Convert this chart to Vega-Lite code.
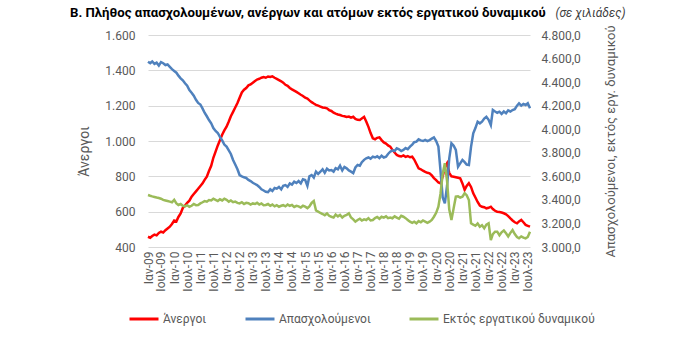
{
  "$schema": "https://vega.github.io/schema/vega-lite/v6.json",
  "width": 382,
  "height": 212,
  "autosize": {"type": "none"},
  "padding": {"left": 148, "top": 35, "right": 170, "bottom": 108},
  "background": "white",
  "config": {
    "locale": {"number": {"decimal": ",", "thousands": ".", "grouping": [3], "currency": ["", "€"]}},
    "font": "Roboto",
    "view": {"stroke": null},
    "axis": {"labelColor": "#595959", "labelFontSize": 12, "titleColor": "#595959", "titleFontSize": 14, "titleFontWeight": "normal", "grid": false, "domain": false, "ticks": false}
  },
  "title": {
    "text": "Β. Πλήθος απασχολουμένων, ανέργων και ατόμων εκτός εργατικού δυναμικού",
    "anchor": "start", "frame": "group", "dx": -78, "offset": -14,
    "fontSize": 13.2, "fontWeight": "bold", "color": "#000000", "font": "Roboto"
  },
  "data": {
    "format": {"parse": {"d": "date:'%Y-%m'"}},
    "values": [
      {"d":"2009-01","u":458,"e":4573,"o":3441},{"d":"2009-02","u":452,"e":4560,"o":3435},{"d":"2009-03","u":462,"e":4575,"o":3430},{"d":"2009-04","u":470,"e":4555,"o":3425},{"d":"2009-05","u":466,"e":4565,"o":3420},{"d":"2009-06","u":480,"e":4540,"o":3416},{"d":"2009-07","u":487,"e":4570,"o":3410},{"d":"2009-08","u":482,"e":4560,"o":3400},{"d":"2009-09","u":495,"e":4545,"o":3395},{"d":"2009-10","u":505,"e":4550,"o":3390},{"d":"2009-11","u":515,"e":4530,"o":3385},{"d":"2009-12","u":530,"e":4510,"o":3380},
      {"d":"2010-01","u":550,"e":4495,"o":3400},{"d":"2010-02","u":545,"e":4480,"o":3370},{"d":"2010-03","u":570,"e":4455,"o":3357},{"d":"2010-04","u":590,"e":4432,"o":3365},{"d":"2010-05","u":621,"e":4415,"o":3350},{"d":"2010-06","u":635,"e":4390,"o":3345},{"d":"2010-07","u":650,"e":4370,"o":3355},{"d":"2010-08","u":662,"e":4333,"o":3342},{"d":"2010-09","u":685,"e":4310,"o":3350},{"d":"2010-10","u":700,"e":4285,"o":3365},{"d":"2010-11","u":715,"e":4250,"o":3355},{"d":"2010-12","u":730,"e":4223,"o":3357},
      {"d":"2011-01","u":745,"e":4210,"o":3370},{"d":"2011-02","u":760,"e":4175,"o":3380},{"d":"2011-03","u":780,"e":4140,"o":3390},{"d":"2011-04","u":798,"e":4110,"o":3385},{"d":"2011-05","u":830,"e":4078,"o":3399},{"d":"2011-06","u":860,"e":4050,"o":3395},{"d":"2011-07","u":905,"e":4010,"o":3410},{"d":"2011-08","u":940,"e":3985,"o":3400},{"d":"2011-09","u":975,"e":3968,"o":3390},{"d":"2011-10","u":1005,"e":3935,"o":3405},{"d":"2011-11","u":1035,"e":3905,"o":3395},{"d":"2011-12","u":1060,"e":3870,"o":3410},
      {"d":"2012-01","u":1081,"e":3852,"o":3400},{"d":"2012-02","u":1110,"e":3820,"o":3385},{"d":"2012-03","u":1140,"e":3790,"o":3395},{"d":"2012-04","u":1165,"e":3739,"o":3380},{"d":"2012-05","u":1190,"e":3700,"o":3385},{"d":"2012-06","u":1215,"e":3660,"o":3375},{"d":"2012-07","u":1245,"e":3611,"o":3370},{"d":"2012-08","u":1275,"e":3600,"o":3380},{"d":"2012-09","u":1290,"e":3592,"o":3365},{"d":"2012-10","u":1300,"e":3586,"o":3375},{"d":"2012-11","u":1315,"e":3570,"o":3371},{"d":"2012-12","u":1320,"e":3560,"o":3360},
      {"d":"2013-01","u":1330,"e":3545,"o":3370},{"d":"2013-02","u":1340,"e":3535,"o":3365},{"d":"2013-03","u":1348,"e":3526,"o":3375},{"d":"2013-04","u":1352,"e":3510,"o":3360},{"d":"2013-05","u":1358,"e":3490,"o":3370},{"d":"2013-06","u":1362,"e":3480,"o":3355},{"d":"2013-07","u":1358,"e":3469,"o":3357},{"d":"2013-08","u":1365,"e":3465,"o":3365},{"d":"2013-09","u":1362,"e":3490,"o":3350},{"d":"2013-10","u":1366,"e":3475,"o":3360},{"d":"2013-11","u":1358,"e":3501,"o":3345},{"d":"2013-12","u":1352,"e":3495,"o":3355},
      {"d":"2014-01","u":1345,"e":3510,"o":3342},{"d":"2014-02","u":1338,"e":3490,"o":3350},{"d":"2014-03","u":1330,"e":3520,"o":3355},{"d":"2014-04","u":1318,"e":3526,"o":3345},{"d":"2014-05","u":1312,"e":3510,"o":3360},{"d":"2014-06","u":1300,"e":3540,"o":3350},{"d":"2014-07","u":1292,"e":3530,"o":3357},{"d":"2014-08","u":1285,"e":3555,"o":3340},{"d":"2014-09","u":1278,"e":3543,"o":3350},{"d":"2014-10","u":1270,"e":3560,"o":3345},{"d":"2014-11","u":1262,"e":3540,"o":3335},{"d":"2014-12","u":1255,"e":3575,"o":3350},
      {"d":"2015-01","u":1245,"e":3569,"o":3342},{"d":"2015-02","u":1240,"e":3520,"o":3330},{"d":"2015-03","u":1230,"e":3600,"o":3345},{"d":"2015-04","u":1220,"e":3611,"o":3374},{"d":"2015-05","u":1212,"e":3590,"o":3390},{"d":"2015-06","u":1205,"e":3640,"o":3310},{"d":"2015-07","u":1200,"e":3620,"o":3300},{"d":"2015-08","u":1195,"e":3639,"o":3289},{"d":"2015-09","u":1190,"e":3660,"o":3280},{"d":"2015-10","u":1188,"e":3630,"o":3270},{"d":"2015-11","u":1185,"e":3665,"o":3285},{"d":"2015-12","u":1175,"e":3650,"o":3265},
      {"d":"2016-01","u":1170,"e":3654,"o":3257},{"d":"2016-02","u":1160,"e":3640,"o":3250},{"d":"2016-03","u":1155,"e":3670,"o":3275},{"d":"2016-04","u":1150,"e":3660,"o":3260},{"d":"2016-05","u":1147,"e":3690,"o":3272},{"d":"2016-06","u":1142,"e":3650,"o":3250},{"d":"2016-07","u":1140,"e":3680,"o":3265},{"d":"2016-08","u":1136,"e":3668,"o":3272},{"d":"2016-09","u":1138,"e":3650,"o":3286},{"d":"2016-10","u":1132,"e":3640,"o":3250},{"d":"2016-11","u":1137,"e":3628,"o":3235},{"d":"2016-12","u":1125,"e":3675,"o":3215},
      {"d":"2017-01","u":1120,"e":3696,"o":3229},{"d":"2017-02","u":1119,"e":3690,"o":3240},{"d":"2017-03","u":1128,"e":3720,"o":3225},{"d":"2017-04","u":1137,"e":3740,"o":3235},{"d":"2017-05","u":1110,"e":3753,"o":3229},{"d":"2017-06","u":1080,"e":3760,"o":3245},{"d":"2017-07","u":1045,"e":3750,"o":3225},{"d":"2017-08","u":1015,"e":3767,"o":3229},{"d":"2017-09","u":1010,"e":3760,"o":3245},{"d":"2017-10","u":1018,"e":3770,"o":3255},{"d":"2017-11","u":1021,"e":3755,"o":3240},{"d":"2017-12","u":1005,"e":3775,"o":3257},
      {"d":"2018-01","u":992,"e":3760,"o":3250},{"d":"2018-02","u":985,"e":3767,"o":3260},{"d":"2018-03","u":975,"e":3790,"o":3245},{"d":"2018-04","u":968,"e":3809,"o":3250},{"d":"2018-05","u":950,"e":3820,"o":3244},{"d":"2018-06","u":935,"e":3815,"o":3260},{"d":"2018-07","u":921,"e":3838,"o":3250},{"d":"2018-08","u":915,"e":3830,"o":3240},{"d":"2018-09","u":912,"e":3815,"o":3265},{"d":"2018-10","u":918,"e":3824,"o":3257},{"d":"2018-11","u":910,"e":3840,"o":3245},{"d":"2018-12","u":915,"e":3830,"o":3230},
      {"d":"2019-01","u":908,"e":3852,"o":3215},{"d":"2019-02","u":911,"e":3870,"o":3205},{"d":"2019-03","u":895,"e":3890,"o":3215},{"d":"2019-04","u":870,"e":3894,"o":3201},{"d":"2019-05","u":845,"e":3914,"o":3220},{"d":"2019-06","u":840,"e":3905,"o":3210},{"d":"2019-07","u":832,"e":3900,"o":3225},{"d":"2019-08","u":825,"e":3910,"o":3215},{"d":"2019-09","u":820,"e":3900,"o":3205},{"d":"2019-10","u":817,"e":3908,"o":3215},{"d":"2019-11","u":805,"e":3920,"o":3230},{"d":"2019-12","u":790,"e":3931,"o":3257},
      {"d":"2020-01","u":778,"e":3900,"o":3290},{"d":"2020-02","u":765,"e":3852,"o":3342},{"d":"2020-03","u":760,"e":3650,"o":3450},{"d":"2020-04","u":800,"e":3420,"o":3620},{"d":"2020-05","u":850,"e":3371,"o":3711},{"d":"2020-06","u":874,"e":3520,"o":3560},{"d":"2020-07","u":820,"e":3750,"o":3320},{"d":"2020-08","u":800,"e":3880,"o":3229},{"d":"2020-09","u":798,"e":3860,"o":3330},{"d":"2020-10","u":795,"e":3824,"o":3427},{"d":"2020-11","u":792,"e":3682,"o":3430},{"d":"2020-12","u":789,"e":3710,"o":3420},
      {"d":"2021-01","u":760,"e":3739,"o":3427},{"d":"2021-02","u":723,"e":3720,"o":3456},{"d":"2021-03","u":745,"e":3700,"o":3440},{"d":"2021-04","u":761,"e":3696,"o":3399},{"d":"2021-05","u":740,"e":3850,"o":3201},{"d":"2021-06","u":704,"e":3965,"o":3190},{"d":"2021-07","u":680,"e":4010,"o":3180},{"d":"2021-08","u":655,"e":4064,"o":3200},{"d":"2021-09","u":635,"e":4050,"o":3172},{"d":"2021-10","u":628,"e":4064,"o":3185},{"d":"2021-11","u":625,"e":4090,"o":3160},{"d":"2021-12","u":619,"e":4106,"o":3190},
      {"d":"2022-01","u":622,"e":4080,"o":3201},{"d":"2022-02","u":628,"e":4036,"o":3059},{"d":"2022-03","u":615,"e":4163,"o":3110},{"d":"2022-04","u":605,"e":4150,"o":3130},{"d":"2022-05","u":600,"e":4140,"o":3130},{"d":"2022-06","u":598,"e":4149,"o":3100},{"d":"2022-07","u":595,"e":4130,"o":3125},{"d":"2022-08","u":591,"e":4150,"o":3140},{"d":"2022-09","u":585,"e":4135,"o":3116},{"d":"2022-10","u":575,"e":4160,"o":3090},{"d":"2022-11","u":562,"e":4150,"o":3120},{"d":"2022-12","u":550,"e":4163,"o":3144},
      {"d":"2023-01","u":540,"e":4170,"o":3110},{"d":"2023-02","u":534,"e":4200,"o":3085},{"d":"2023-03","u":545,"e":4220,"o":3074},{"d":"2023-04","u":553,"e":4200,"o":3090},{"d":"2023-05","u":540,"e":4215,"o":3080},{"d":"2023-06","u":525,"e":4206,"o":3074},{"d":"2023-07","u":520,"e":4220,"o":3085},{"d":"2023-08","u":515,"e":4178,"o":3130}
    ]
  },
  "transform": [{"fold": ["u", "e", "o"], "as": ["s", "v"]}],
  "layer": [
    {
      "transform": [{"filter": "datum.s == 'u'"}],
      "mark": {"type": "line", "strokeWidth": 2.5},
      "encoding": {
        "x": {"field": "d", "type": "temporal",
          "axis": {"title": null, "tickCount": {"interval": "month", "step": 6}, "labelAngle": 270, "labelOverlap": false, "labelFlush": false, "labelPadding": 4,
            "labelExpr": "(month(datum.value) == 0 ? 'Ιαν-' : 'Ιουλ-') + timeFormat(datum.value, '%y')"}},
        "y": {"field": "v", "type": "quantitative", "scale": {"domain": [400, 1600]},
          "axis": {"orient": "left", "values": [400, 600, 800, 1000, 1200, 1400, 1600], "format": ",d", "grid": true, "gridColor": "#D9D9D9", "labelPadding": 13, "title": "Άνεργοι", "titlePadding": 13, "titleY": 116}},
        "color": {"field": "s", "type": "nominal",
          "scale": {"domain": ["u", "e", "o"], "range": ["#FF0000", "#4F81BD", "#9BBB59"]},
          "legend": {"title": null, "orient": "none", "legendX": -20, "legendY": 268, "direction": "horizontal",
            "symbolType": "stroke", "symbolSize": 841, "symbolStrokeWidth": 3, "labelFontSize": 12, "labelColor": "#595959", "labelOffset": 3, "columnPadding": 32,
            "labelExpr": "datum.label == 'u' ? 'Άνεργοι' : datum.label == 'e' ? 'Απασχολούμενοι' : 'Εκτός εργατικού δυναμικού'"}}
      }
    },
    {
      "transform": [{"filter": "datum.s != 'u'"}],
      "mark": {"type": "line", "strokeWidth": 2.5},
      "encoding": {
        "x": {"field": "d", "type": "temporal",
          "axis": {"orient": "top", "labels": false, "title": "(σε χιλιάδες)", "titleFontStyle": "italic", "titleFontSize": 12, "titleColor": "#404040",
            "titleX": 407, "titleY": -23, "titleAlign": "left", "titleBaseline": "middle", "titleAngle": 0}},
        "y": {"field": "v", "type": "quantitative", "scale": {"domain": [3000, 4800]},
          "axis": {"orient": "right", "values": [3000, 3200, 3400, 3600, 3800, 4000, 4200, 4400, 4600, 4800], "format": ",.1f", "labelPadding": 11,
            "title": "Απασχολούμενοι, εκτός εργ. δυναμικού", "titleAngle": 270, "titleBaseline": "top", "titlePadding": 24, "titleFontSize": 13}},
        "color": {"field": "s", "type": "nominal", "scale": {"domain": ["u", "e", "o"], "range": ["#FF0000", "#4F81BD", "#9BBB59"]}}
      }
    }
  ],
  "resolve": {"scale": {"y": "independent"}, "axis": {"x": "independent"}}
}
